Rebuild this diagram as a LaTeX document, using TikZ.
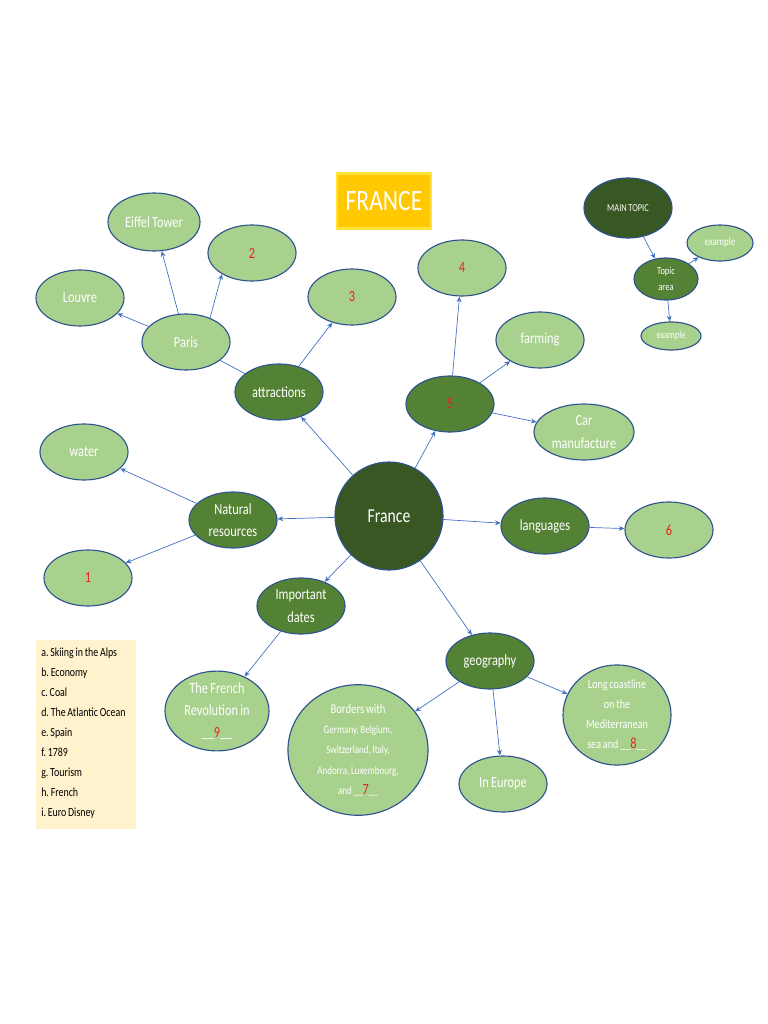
\documentclass[tikz,border=0pt]{standalone}
\usepackage{fontspec}
\setmainfont{Carlito}[FakeStretch=0.8, WordSpace=0.8]
\usepackage{xcolor}
\usetikzlibrary{arrows.meta,shapes.geometric}

\definecolor{darkleaf}{HTML}{385723}
\definecolor{midleaf}{HTML}{548235}
\definecolor{lightleaf}{HTML}{A9D18E}
\definecolor{rim}{HTML}{2F528F}
\definecolor{arrowblue}{HTML}{4472C4}
\definecolor{numred}{HTML}{E3261C}
\definecolor{legendcream}{HTML}{FFF2CC}
\definecolor{titlegold}{HTML}{FFC800}
\definecolor{titleedge}{HTML}{FFE23A}

\newcommand{\num}[1]{\textcolor{numred}{#1}}
\newcommand{\gap}[1]{\_\_\textcolor{numred}{#1}\_\_}

\begin{document}
\begin{tikzpicture}[
  x=0.025cm, y=-0.025cm,
  every node/.style={align=center, text=white, font=\fontsize{11}{16}\selectfont},
  hub/.style={circle, draw=rim, fill=darkleaf, line width=0.8pt,
              minimum size=2.7cm, inner sep=0pt, font=\fontsize{14}{16}\selectfont},
  topic/.style={ellipse, draw=rim, fill=midleaf, line width=0.8pt,
                minimum width=2.2cm, minimum height=1.4cm, inner sep=0pt},
  leaf/.style={ellipse, draw=rim, fill=lightleaf, line width=0.8pt,
               minimum width=2.2cm, minimum height=1.4cm, inner sep=0pt},
  line/.style={-{Stealth[length=4pt,width=3.5pt]}, draw=arrowblue, line width=0.5pt}
]
\useasboundingbox (0,0) rectangle (768,1024);

% title and key
\node[draw=titleedge, line width=2pt, fill=titlegold, minimum width=2.35cm,
      minimum height=1.38cm, font=\fontsize{21}{24}\selectfont] (title) at (384,201) {FRANCE};
\node[fill=legendcream, minimum width=2.5cm, minimum height=4.73cm] (key) at (86,734.5) {};
\node[anchor=north west, text=black, align=left, inner sep=0pt,
      font=\fontsize{8.8}{14.2}\selectfont\frenchspacing] (keytext) at (41,648)
  {a. Skiing in the Alps\\b.\ Economy\\c.\ Coal\\d.\ The Atlantic Ocean\\e.\ Spain\\f.\ 1789\\g.\ Tourism\\h.\ French\\i.\ Euro Disney};

% sample
\node[ellipse, draw=rim, fill=darkleaf, line width=0.8pt, minimum width=2.2cm,
      minimum height=1.5cm, font=\fontsize{7.5}{9}\selectfont] (main) at (628,208) {MAIN TOPIC};
\node[topic, minimum width=1.6cm, minimum height=1.05cm,
      font=\fontsize{7.5}{11.5}\selectfont] (area) at (666,279) {Topic\\area};
\node[leaf, minimum width=1.65cm, minimum height=0.9cm,
      font=\fontsize{8}{9}\selectfont] (ex1) at (720,243) {example};
\node[leaf, minimum width=1.5cm, minimum height=0.7cm,
      font=\fontsize{7.5}{9}\selectfont] (ex2) at (671,336) {example};

% centre
\node[hub] (france) at (389,516) {France};

\node[topic] (attr)  at (279,392) {attractions};
\node[topic] (five)  at (450,404) {\num{5}};
\node[topic] (nat)   at (233,520) {Natural\\resources};
\node[topic] (lang)  at (545,526) {languages};
\node[topic] (dates) at (301,606) {Important\\dates};
\node[topic] (geo)   at (490,661) {geography};

\node[leaf] (paris)  at (186,342) {Paris};
\node[leaf, minimum width=2.3cm, minimum height=1.45cm] (eiffel) at (154,222) {Eiffel Tower};
\node[leaf] (two)    at (252,253) {\num{2}};
\node[leaf] (louvre) at (80,298)  {Louvre};
\node[leaf] (three)  at (352,297) {\num{3}};
\node[leaf] (four)   at (462,268) {\num{4}};
\node[leaf] (farm)   at (540,340) {farming};
\node[leaf, minimum width=2.5cm] (car) at (584,432) {Car\\manufacture};
\node[leaf] (water)  at (84,452)  {water};
\node[leaf] (one)    at (88,578)  {\num{1}};
\node[leaf] (six)    at (669,530) {\num{6}};
\node[leaf, minimum width=2.6cm, minimum height=1.75cm,
      font=\fontsize{11}{15.5}\selectfont] (revo) at (217,711)
  {The French\\Revolution in\\\gap{9}};
\node[leaf, minimum width=3.5cm, minimum height=3.2cm,
      font=\fontsize{8}{14.5}\selectfont] (border) at (358,750)
  {{\fontsize{9.5}{14.5}\selectfont Borders with}\\Germany, Belgium,\\Switzerland, Italy,\\Andorra, Luxembourg,\\and \gap{{\fontsize{11}{14.5}\selectfont 7}}};
\node[leaf] (europe) at (503,784) {In Europe};
\node[leaf, minimum width=2.7cm, minimum height=2.35cm,
      font=\fontsize{9}{14.3}\selectfont] (coast) at (617,715)
  {Long coastline\\on the\\Mediterranean\\sea and \gap{{\fontsize{11}{14}\selectfont 8}}};

% connectors
\draw[line] (france) -- (attr);
\draw[line] (france) -- (five);
\draw[line] (france) -- (nat);
\draw[line] (france) -- (lang);
\draw[line] (france) -- (dates);
\draw[line] (france) -- (geo);
\draw[draw=arrowblue, line width=0.5pt] (attr) -- (paris);
\draw[line] (attr) -- (three);
\draw[line] (paris) -- (eiffel);
\draw[line] (paris.45) -- (two.215);
\draw[line] (paris) -- (louvre);
\draw[line] (five) -- (four);
\draw[line] (five) -- (farm);
\draw[line] (five) -- (car);
\draw[line] (nat) -- (water);
\draw[line] (nat) -- (one);
\draw[line] (lang) -- (six);
\draw[line] (dates) -- (revo);
\draw[line] (geo) -- (border);
\draw[line] (geo) -- (europe);
\draw[line] (geo) -- (coast);
\draw[line] (main) -- (area);
\draw[line] (area) -- (ex1);
\draw[line] (area) -- (ex2);
\end{tikzpicture}
\end{document}
